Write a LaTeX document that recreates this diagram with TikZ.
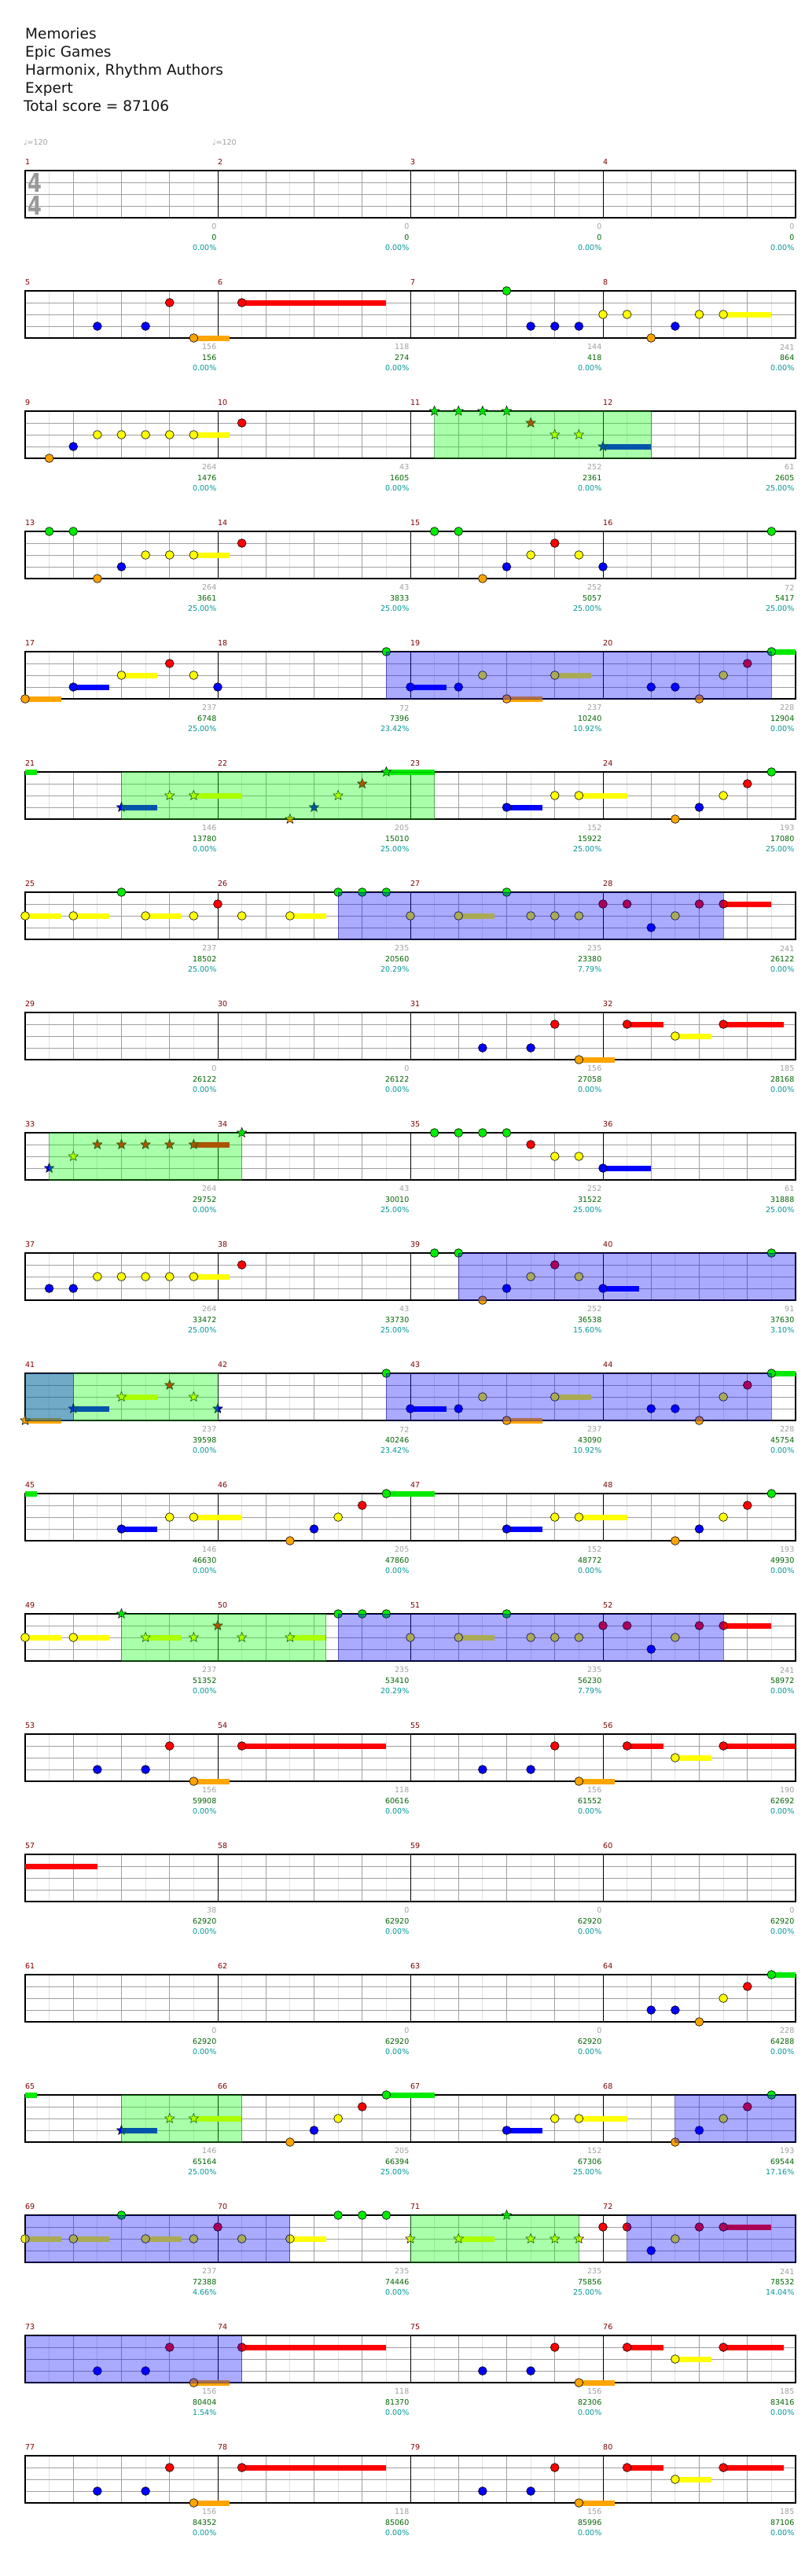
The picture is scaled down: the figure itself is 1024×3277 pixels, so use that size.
\documentclass[tikz,border=0pt]{standalone}
\usepackage{fontspec}
\setmainfont{DejaVu Sans}
\usetikzlibrary{shapes.geometric}
\definecolor{nG}{RGB}{0,235,0}
\definecolor{nR}{RGB}{255,0,0}
\definecolor{nY}{RGB}{255,255,0}
\definecolor{nB}{RGB}{0,0,255}
\definecolor{nO}{RGB}{255,165,0}
\definecolor{cLight}{RGB}{225,225,225}
\definecolor{cBeat}{RGB}{160,160,160}
\definecolor{cMeas}{RGB}{128,0,0}
\definecolor{cGray}{RGB}{160,160,160}
\definecolor{cTot}{RGB}{0,100,0}
\definecolor{cPct}{RGB}{0,150,150}
\definecolor{cNavy}{RGB}{0,0,110}
\definecolor{cOvG}{RGB}{0,255,0}
\definecolor{cDkG}{RGB}{0,110,0}
\newcounter{stc}
\tikzset{
 lightg/.style={draw=cLight, line width=1pt},
 beatg/.style={draw=cBeat, line width=1pt},
 laneg/.style={draw=cBeat, line width=1pt},
 measl/.style={draw=black, line width=1pt},
 staffb/.style={draw=black, line width=1.5pt},
 notec/.style={draw=black, line width=0.6pt},
 starn/.style={star, star points=5, star point ratio=2.3, minimum size=13pt, inner sep=0pt, draw=black, line width=0.5pt},
 bluer/.style={fill=blue, fill opacity=0.333, draw=cNavy, draw opacity=0.45, line width=1pt},
 greenr/.style={fill=cOvG, fill opacity=0.333, draw=cDkG, draw opacity=0.45, line width=1pt},
 smallfont/.style={font=\fontsize{9.5}{11}\selectfont, inner sep=0pt},
 mlab/.style={smallfont, text=cMeas, anchor=west},
 gnum/.style={smallfont, text=cGray, anchor=east},
 tnum/.style={smallfont, text=cTot, anchor=east},
 pnum/.style={smallfont, text=cPct, anchor=east},
 hdr/.style={font=\fontsize{18.5}{22}\selectfont, text=black!92, anchor=base west, inner sep=0pt},
 tempo/.style={smallfont, text=cGray, anchor=base west},
 tsig/.style={font=\fontsize{33}{33}\selectfont\bfseries, text=black!40, inner sep=0pt, xscale=0.78}
}
\newcommand\Grid{%
 \fill[white] (32,0) rectangle (1012,60);
 \foreach \k in {1,3,...,31} {\draw[lightg] ({32+30.625*\k},0) -- ({32+30.625*\k},60);}
 \foreach \k in {2,4,...,30} {\draw[beatg] ({32+30.625*\k},0) -- ({32+30.625*\k},60);}
 \foreach \l in {15,30,45} {\draw[laneg] (32,\l) -- (1012,\l);}
 \foreach \k in {1,2,3} {\draw[measl] ({32+245*\k},0) -- ({32+245*\k},60);}
 \draw[staffb] (32,0) rectangle (1012,60);
}
\newcommand\Labels[1]{\foreach \k in {0,1,2,3} {\pgfmathtruncatemacro\mn{4*(#1-1)+\k+1}\node[mlab] (ml\mn) at ({32+245*\k},-11) {\mn};}}
\newcommand\Nums[2]{\foreach \a/\b/\c [count=\k] in {#2} {%
 \node[gnum] (g#1-\k) at ({32+245*\k-1.5},71.5) {\a};
 \node[tnum] (t#1-\k) at ({32+245*\k-1.5},85) {\b};
 \node[pnum] (p#1-\k) at ({32+245*\k-1.5},98) {\c\%};}}
\newcommand\Row[2]{\begin{scope}[shift={(0,{217+153*(#1-1)})}]\Grid\Labels{#1}#2\end{scope}}
\newcommand\nt[3]{\filldraw[notec, fill=#3] ({32+30.625*(#1)},{15*(#2)}) circle[radius=5.4pt];}
\newcommand\sus[4]{\fill[#4] ({32+30.625*(#1)},{15*(#3)-3.5}) rectangle ({32+30.625*(#2)},{15*(#3)+3.5});}
\newcommand\sn[4]{\sus{#1}{#2}{#3}{#4}\nt{#1}{#3}{#4}}
\newcommand\st[3]{\stepcounter{stc}\node[starn, fill=#3] (star\arabic{stc}) at ({32+30.625*(#1)},{15*(#2)}) {};}
\newcommand\breg[2]{\path[bluer] ({32+30.625*(#1)},0) rectangle ({32+30.625*(#2)},60);}
\newcommand\greg[2]{\path[greenr] ({32+30.625*(#1)},0) rectangle ({32+30.625*(#2)},60);}
\begin{document}
\begin{tikzpicture}[x=1pt,y=-1pt]
\useasboundingbox (0,0) rectangle (1024,3277);
\fill[white] (0,0) rectangle (1024,3277);
% header
\node[hdr] (h1) at (32,49) {Memories};
\node[hdr] (h2) at (32,72.2) {Epic Games};
\node[hdr] (h3) at (32,95.4) {Harmonix, Rhythm Authors};
\node[hdr] (h4) at (32,118.6) {Expert};
\node[hdr] (h5) at (30,141.8) {Total score = 87106};
\node[tempo] (tp1) at (30,184) {♩=120};
\node[tempo] (tp2) at (270,184) {♩=120};
% row 1
\Row{1}{\Nums{1}{0/0/0.00,0/0/0.00,0/0/0.00,0/0/0.00}}
\node[tsig] (ts1) at (44.3,232.5) {4};
\node[tsig] (ts2) at (44.3,261.5) {4};
% row 2
\Row{2}{\nt{3}{3}{nB}\nt{5}{3}{nB}\nt{6}{1}{nR}\sn{7}{8.5}{4}{nO}\sn{9}{15}{1}{nR}\nt{20}{0}{nG}\nt{21}{3}{nB}\nt{22}{3}{nB}\nt{23}{3}{nB}\nt{24}{2}{nY}\nt{25}{2}{nY}\nt{26}{4}{nO}\nt{27}{3}{nB}\nt{28}{2}{nY}\sn{29}{31}{2}{nY}
\Nums{2}{156/156/0.00,118/274/0.00,144/418/0.00,241/864/0.00}}
% row 3
\Row{3}{\nt{1}{4}{nO}\nt{2}{3}{nB}\nt{3}{2}{nY}\nt{4}{2}{nY}\nt{5}{2}{nY}\nt{6}{2}{nY}\sn{7}{8.5}{2}{nY}\nt{9}{1}{nR}
\st{17}{0}{nG}\st{18}{0}{nG}\st{19}{0}{nG}\st{20}{0}{nG}\st{21}{1}{nR}\st{22}{2}{nY}\st{23}{2}{nY}\sus{24}{26}{3}{nB}\st{24}{3}{nB}
\greg{17}{26}
\Nums{3}{264/1476/0.00,43/1605/0.00,252/2361/0.00,61/2605/25.00}}
% row 4
\Row{4}{\nt{1}{0}{nG}\nt{2}{0}{nG}\nt{3}{4}{nO}\nt{4}{3}{nB}\nt{5}{2}{nY}\nt{6}{2}{nY}\sn{7}{8.5}{2}{nY}\nt{9}{1}{nR}\nt{17}{0}{nG}\nt{18}{0}{nG}\nt{19}{4}{nO}\nt{20}{3}{nB}\nt{21}{2}{nY}\nt{22}{1}{nR}\nt{23}{2}{nY}\nt{24}{3}{nB}\nt{31}{0}{nG}
\Nums{4}{264/3661/25.00,43/3833/25.00,252/5057/25.00,72/5417/25.00}}
% row 5
\Row{5}{\sn{0}{1.5}{4}{nO}\sn{2}{3.5}{3}{nB}\sn{4}{5.5}{2}{nY}\nt{6}{1}{nR}\nt{7}{2}{nY}\nt{8}{3}{nB}\nt{15}{0}{nG}\sn{16}{17.5}{3}{nB}\nt{18}{3}{nB}\nt{19}{2}{nY}\sn{20}{21.5}{4}{nO}\sn{22}{23.5}{2}{nY}\nt{26}{3}{nB}\nt{27}{3}{nB}\nt{28}{4}{nO}\nt{29}{2}{nY}\nt{30}{1}{nR}\sn{31}{32}{0}{nG}
\breg{15}{31}
\Nums{5}{237/6748/25.00,72/7396/23.42,237/10240/10.92,228/12904/0.00}}
% row 6
\Row{6}{\sus{0}{0.5}{0}{nG}
\sus{4}{5.5}{3}{nB}\st{4}{3}{nB}\st{6}{2}{nY}\sus{7}{9}{2}{nY}\st{7}{2}{nY}\st{11}{4}{nO}\st{12}{3}{nB}\st{13}{2}{nY}\st{14}{1}{nR}\sus{15}{17}{0}{nG}\st{15}{0}{nG}
\sn{20}{21.5}{3}{nB}\nt{22}{2}{nY}\sn{23}{25}{2}{nY}\nt{27}{4}{nO}\nt{28}{3}{nB}\nt{29}{2}{nY}\nt{30}{1}{nR}\nt{31}{0}{nG}
\greg{4}{17}
\Nums{6}{146/13780/0.00,205/15010/25.00,152/15922/25.00,193/17080/25.00}}
% row 7
\Row{7}{\sn{0}{1.5}{2}{nY}\sn{2}{3.5}{2}{nY}\nt{4}{0}{nG}\sn{5}{6.5}{2}{nY}\nt{7}{2}{nY}\nt{8}{1}{nR}\nt{9}{2}{nY}\sn{11}{12.5}{2}{nY}\nt{13}{0}{nG}\nt{14}{0}{nG}\nt{15}{0}{nG}\nt{16}{2}{nY}\sn{18}{19.5}{2}{nY}\nt{20}{0}{nG}\nt{21}{2}{nY}\nt{22}{2}{nY}\nt{23}{2}{nY}\nt{24}{1}{nR}\nt{25}{1}{nR}\nt{26}{3}{nB}\nt{27}{2}{nY}\nt{28}{1}{nR}\sn{29}{31}{1}{nR}
\breg{13}{29}
\Nums{7}{237/18502/25.00,235/20560/20.29,235/23380/7.79,241/26122/0.00}}
% row 8
\Row{8}{\nt{19}{3}{nB}\nt{21}{3}{nB}\nt{22}{1}{nR}\sn{23}{24.5}{4}{nO}\sn{25}{26.5}{1}{nR}\sn{27}{28.5}{2}{nY}\sn{29}{31.5}{1}{nR}
\Nums{8}{0/26122/0.00,0/26122/0.00,156/27058/0.00,185/28168/0.00}}
% row 9
\Row{9}{\st{1}{3}{nB}\st{2}{2}{nY}\st{3}{1}{nR}\st{4}{1}{nR}\st{5}{1}{nR}\st{6}{1}{nR}\sus{7}{8.5}{1}{nR}\st{7}{1}{nR}\st{9}{0}{nG}
\greg{1}{9}
\nt{17}{0}{nG}\nt{18}{0}{nG}\nt{19}{0}{nG}\nt{20}{0}{nG}\nt{21}{1}{nR}\nt{22}{2}{nY}\nt{23}{2}{nY}\sn{24}{26}{3}{nB}
\Nums{9}{264/29752/0.00,43/30010/25.00,252/31522/25.00,61/31888/25.00}}
% row 10
\Row{10}{\nt{1}{3}{nB}\nt{2}{3}{nB}\nt{3}{2}{nY}\nt{4}{2}{nY}\nt{5}{2}{nY}\nt{6}{2}{nY}\sn{7}{8.5}{2}{nY}\nt{9}{1}{nR}\nt{17}{0}{nG}\nt{18}{0}{nG}\nt{19}{4}{nO}\nt{20}{3}{nB}\nt{21}{2}{nY}\nt{22}{1}{nR}\nt{23}{2}{nY}\sn{24}{25.5}{3}{nB}\nt{31}{0}{nG}
\breg{18}{32}
\Nums{10}{264/33472/25.00,43/33730/25.00,252/36538/15.60,91/37630/3.10}}
% row 11
\Row{11}{\sus{0}{1.5}{4}{nO}\st{0}{4}{nO}\sus{2}{3.5}{3}{nB}\st{2}{3}{nB}\sus{4}{5.5}{2}{nY}\st{4}{2}{nY}\st{6}{1}{nR}\st{7}{2}{nY}\st{8}{3}{nB}
\greg{0}{8}\breg{0}{2}
\nt{15}{0}{nG}\sn{16}{17.5}{3}{nB}\nt{18}{3}{nB}\nt{19}{2}{nY}\sn{20}{21.5}{4}{nO}\sn{22}{23.5}{2}{nY}\nt{26}{3}{nB}\nt{27}{3}{nB}\nt{28}{4}{nO}\nt{29}{2}{nY}\nt{30}{1}{nR}\sn{31}{32}{0}{nG}
\breg{15}{31}
\Nums{11}{237/39598/0.00,72/40246/23.42,237/43090/10.92,228/45754/0.00}}
% row 12
\Row{12}{\sus{0}{0.5}{0}{nG}\sn{4}{5.5}{3}{nB}\nt{6}{2}{nY}\sn{7}{9}{2}{nY}\nt{11}{4}{nO}\nt{12}{3}{nB}\nt{13}{2}{nY}\nt{14}{1}{nR}\sn{15}{17}{0}{nG}\sn{20}{21.5}{3}{nB}\nt{22}{2}{nY}\sn{23}{25}{2}{nY}\nt{27}{4}{nO}\nt{28}{3}{nB}\nt{29}{2}{nY}\nt{30}{1}{nR}\nt{31}{0}{nG}
\Nums{12}{146/46630/0.00,205/47860/0.00,152/48772/0.00,193/49930/0.00}}
% row 13
\Row{13}{\sn{0}{1.5}{2}{nY}\sn{2}{3.5}{2}{nY}
\st{4}{0}{nG}\sus{5}{6.5}{2}{nY}\st{5}{2}{nY}\st{7}{2}{nY}\st{8}{1}{nR}\st{9}{2}{nY}\sus{11}{12.5}{2}{nY}\st{11}{2}{nY}
\greg{4}{12.5}
\nt{13}{0}{nG}\nt{14}{0}{nG}\nt{15}{0}{nG}\nt{16}{2}{nY}\sn{18}{19.5}{2}{nY}\nt{20}{0}{nG}\nt{21}{2}{nY}\nt{22}{2}{nY}\nt{23}{2}{nY}\nt{24}{1}{nR}\nt{25}{1}{nR}\nt{26}{3}{nB}\nt{27}{2}{nY}\nt{28}{1}{nR}\sn{29}{31}{1}{nR}
\breg{13}{29}
\Nums{13}{237/51352/0.00,235/53410/20.29,235/56230/7.79,241/58972/0.00}}
% row 14
\Row{14}{\nt{3}{3}{nB}\nt{5}{3}{nB}\nt{6}{1}{nR}\sn{7}{8.5}{4}{nO}\sn{9}{15}{1}{nR}\nt{19}{3}{nB}\nt{21}{3}{nB}\nt{22}{1}{nR}\sn{23}{24.5}{4}{nO}\sn{25}{26.5}{1}{nR}\sn{27}{28.5}{2}{nY}\sn{29}{32}{1}{nR}
\Nums{14}{156/59908/0.00,118/60616/0.00,156/61552/0.00,190/62692/0.00}}
% row 15
\Row{15}{\sus{0}{3}{1}{nR}
\Nums{15}{38/62920/0.00,0/62920/0.00,0/62920/0.00,0/62920/0.00}}
% row 16
\Row{16}{\nt{26}{3}{nB}\nt{27}{3}{nB}\nt{28}{4}{nO}\nt{29}{2}{nY}\nt{30}{1}{nR}\sn{31}{32}{0}{nG}
\Nums{16}{0/62920/0.00,0/62920/0.00,0/62920/0.00,228/64288/0.00}}
% row 17
\Row{17}{\sus{0}{0.5}{0}{nG}
\sus{4}{5.5}{3}{nB}\st{4}{3}{nB}\st{6}{2}{nY}\sus{7}{9}{2}{nY}\st{7}{2}{nY}
\greg{4}{9}
\nt{11}{4}{nO}\nt{12}{3}{nB}\nt{13}{2}{nY}\nt{14}{1}{nR}\sn{15}{17}{0}{nG}\sn{20}{21.5}{3}{nB}\nt{22}{2}{nY}\sn{23}{25}{2}{nY}\nt{27}{4}{nO}\nt{28}{3}{nB}\nt{29}{2}{nY}\nt{30}{1}{nR}\nt{31}{0}{nG}
\breg{27}{32}
\Nums{17}{146/65164/25.00,205/66394/25.00,152/67306/25.00,193/69544/17.16}}
% row 18
\Row{18}{\sn{0}{1.5}{2}{nY}\sn{2}{3.5}{2}{nY}\nt{4}{0}{nG}\sn{5}{6.5}{2}{nY}\nt{7}{2}{nY}\nt{8}{1}{nR}\nt{9}{2}{nY}\sn{11}{12.5}{2}{nY}\nt{13}{0}{nG}\nt{14}{0}{nG}\nt{15}{0}{nG}
\st{16}{2}{nY}\sus{18}{19.5}{2}{nY}\st{18}{2}{nY}\st{20}{0}{nG}\st{21}{2}{nY}\st{22}{2}{nY}\st{23}{2}{nY}
\nt{24}{1}{nR}\nt{25}{1}{nR}\nt{26}{3}{nB}\nt{27}{2}{nY}\nt{28}{1}{nR}\sn{29}{31}{1}{nR}
\breg{0}{11}\greg{16}{23}\breg{25}{32}
\Nums{18}{237/72388/4.66,235/74446/0.00,235/75856/25.00,241/78532/14.04}}
% row 19
\Row{19}{\nt{3}{3}{nB}\nt{5}{3}{nB}\nt{6}{1}{nR}\sn{7}{8.5}{4}{nO}\sn{9}{15}{1}{nR}
\breg{0}{9}
\nt{19}{3}{nB}\nt{21}{3}{nB}\nt{22}{1}{nR}\sn{23}{24.5}{4}{nO}\sn{25}{26.5}{1}{nR}\sn{27}{28.5}{2}{nY}\sn{29}{31.5}{1}{nR}
\Nums{19}{156/80404/1.54,118/81370/0.00,156/82306/0.00,185/83416/0.00}}
% row 20
\Row{20}{\nt{3}{3}{nB}\nt{5}{3}{nB}\nt{6}{1}{nR}\sn{7}{8.5}{4}{nO}\sn{9}{15}{1}{nR}\nt{19}{3}{nB}\nt{21}{3}{nB}\nt{22}{1}{nR}\sn{23}{24.5}{4}{nO}\sn{25}{26.5}{1}{nR}\sn{27}{28.5}{2}{nY}\sn{29}{31.5}{1}{nR}
\Nums{20}{156/84352/0.00,118/85060/0.00,156/85996/0.00,185/87106/0.00}}
\end{tikzpicture}
\end{document}
